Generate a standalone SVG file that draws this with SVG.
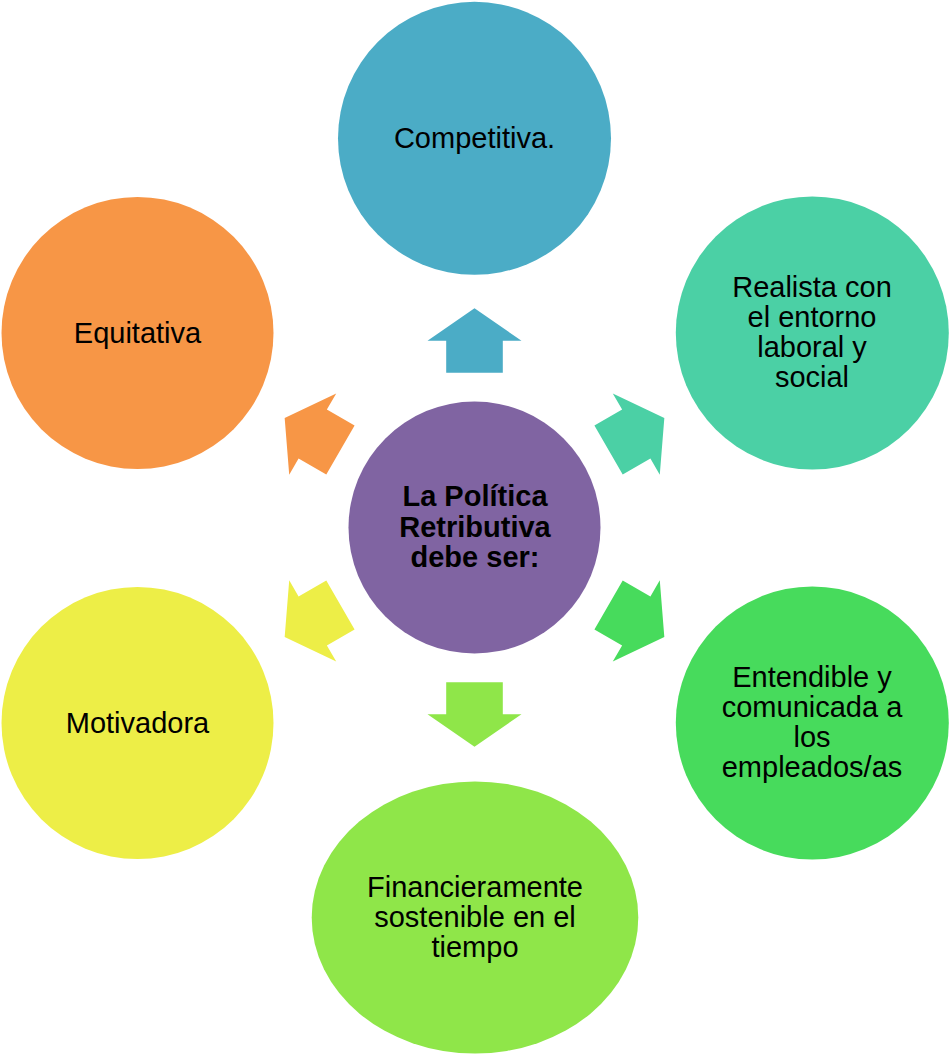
<svg xmlns="http://www.w3.org/2000/svg" width="949" height="1054" viewBox="0 0 949 1054">
<style>
  text { font-family: "Liberation Sans", Arial, sans-serif; font-size: 29px; fill: #000; text-anchor: middle; }
  .bold { font-weight: bold; }
</style>
<defs>
  <path id="arrow" d="M0,-219.2 L47,-186.8 L28.3,-186.8 L28.3,-154.8 L-28.3,-154.8 L-28.3,-186.8 L-47,-186.8 Z"/>
</defs>
<rect width="949" height="1054" fill="#ffffff"/>
<g id="connectors">
  <use href="#arrow" transform="translate(474.5,527.5)" fill="#4BACC6"/>
  <use href="#arrow" transform="translate(474.5,527.5) rotate(60)" fill="#4BD0A5"/>
  <use href="#arrow" transform="translate(474.5,527.5) rotate(120)" fill="#47DB5C"/>
  <use href="#arrow" transform="translate(474.5,527.5) rotate(180)" fill="#8FE649"/>
  <use href="#arrow" transform="translate(474.5,527.5) rotate(240)" fill="#EDEE47"/>
  <use href="#arrow" transform="translate(474.5,527.5) rotate(300)" fill="#F79646"/>
</g>
<g id="center">
  <circle cx="474.5" cy="527.5" r="126" fill="#8064A2"/>
  <text class="bold" x="475" y="506">La Política</text>
  <text class="bold" x="475" y="536.5">Retributiva</text>
  <text class="bold" x="475" y="566.5">debe ser:</text>
</g>
<g id="competitiva">
  <circle cx="474.5" cy="138.3" r="136.5" fill="#4BACC6"/>
  <text x="474.5" y="148.3">Competitiva.</text>
</g>
<g id="realista">
  <circle cx="812.3" cy="333" r="136.5" fill="#4BD0A5"/>
  <text x="812" y="296.7">Realista con</text>
  <text x="812" y="326.7">el entorno</text>
  <text x="812" y="356.7">laboral y</text>
  <text x="812" y="386.7">social</text>
</g>
<g id="entendible">
  <circle cx="812.3" cy="723" r="136.5" fill="#47DB5C"/>
  <text x="812" y="686.5">Entendible y</text>
  <text x="812" y="716.5">comunicada a</text>
  <text x="812" y="746.5">los</text>
  <text x="812" y="776.5">empleados/as</text>
</g>
<g id="financieramente">
  <ellipse cx="475" cy="917.5" rx="163.3" ry="136" fill="#8FE649"/>
  <text x="475" y="896.7">Financieramente</text>
  <text x="475" y="926.7">sostenible en el</text>
  <text x="475" y="956.7">tiempo</text>
</g>
<g id="motivadora">
  <circle cx="137.5" cy="723" r="136" fill="#EDEE47"/>
  <text x="137.5" y="732.7">Motivadora</text>
</g>
<g id="equitativa">
  <circle cx="137.5" cy="333" r="136" fill="#F79646"/>
  <text x="137.5" y="342.7">Equitativa</text>
</g>
</svg>
